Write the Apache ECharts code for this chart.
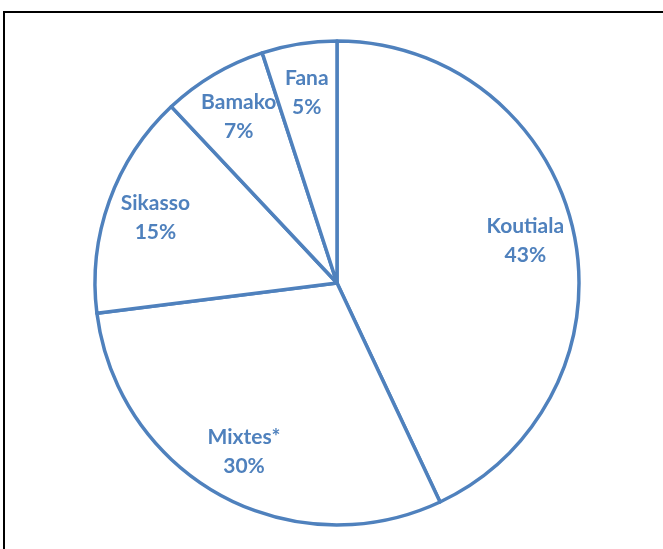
<!DOCTYPE html>
<html>
<head>
    <meta charset="utf-8"/>
    <script src="https://cdn.jsdelivr.net/npm/echarts@6/dist/echarts.min.js"></script>
    <style>
        html, body { margin: 0; padding: 0; background: #fff; }
        #chart { width: 663px; height: 549px; }
    </style>
</head>
<body>
<div id="chart"></div>
<script type="text/javascript">
    // parts of the pie, clockwise from 12 o'clock
    const regions = ['Koutiala', 'Mixtes*', 'Sikasso', 'Bamako', 'Fana'];
    const shares = [43, 30, 15, 7, 5];

    const blue = '#4F81BD';
    let pieData = regions.map(function (name, i) {
        return {name: name, value: shares[i]};
    });

    let chart = echarts.init(document.getElementById('chart'));
    chart.setOption({
        animation: false,
        graphic: [{
            type: 'rect',
            shape: {x: 4, y: 12, width: 700, height: 600},
            style: {fill: 'none', stroke: '#000', lineWidth: 2},
            z: -1
        }],
        series: [
            {
                type: 'pie',
                center: [337, 283],
                radius: [0, 242],
                startAngle: 90,
                clockwise: true,
                label: {show: false},
                labelLine: {show: false},
                itemStyle: {color: '#fff', borderColor: blue, borderWidth: 3.5},
                emphasis: {disabled: true},
                data: pieData
            },
            {
                // invisible ring, only there to push the labels outwards
                type: 'pie',
                center: [337, 283],
                radius: [138, 242],
                startAngle: 90,
                clockwise: true,
                silent: true,
                itemStyle: {color: 'rgba(0,0,0,0)', borderWidth: 0},
                label: {
                    show: true,
                    position: 'inside',
                    formatter: '{b}\n{d}%',
                    color: blue,
                    fontFamily: 'Lato',
                    fontWeight: 'bold',
                    fontSize: 21,
                    lineHeight: 29
                },
                labelLine: {show: false},
                emphasis: {disabled: true},
                data: pieData
            }
        ]
    });
</script>
</body>
</html>
